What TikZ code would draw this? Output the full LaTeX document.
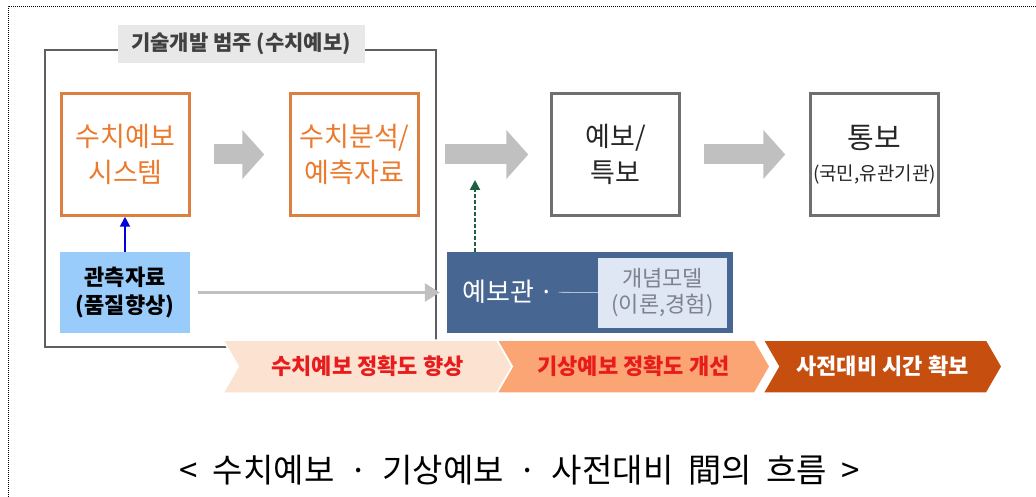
\documentclass[tikz,border=0pt]{standalone}
\usepackage{fontspec}
\newfontfamily\kr{Noto Sans CJK KR}
\usetikzlibrary{arrows.meta,positioning,shapes.symbols}

\definecolor{boxorange}{RGB}{220,128,66}
\definecolor{txtorange}{RGB}{236,122,44}
\definecolor{frameg}{RGB}{95,95,95}
\definecolor{arrg}{RGB}{192,192,192}
\definecolor{obsblue}{RGB}{153,204,250}
\definecolor{fcblue}{RGB}{72,102,146}
\definecolor{mdlbg}{RGB}{222,231,243}
\definecolor{mdltxt}{RGB}{125,130,142}
\definecolor{chevA}{RGB}{252,226,208}
\definecolor{chevB}{RGB}{250,165,115}
\definecolor{chevC}{RGB}{198,78,14}
\definecolor{redtxt}{RGB}{232,28,28}
\definecolor{dgreen}{RGB}{30,95,65}

\begin{document}
\begin{tikzpicture}[
  x=1pt, y=-1pt,
  font=\kr,
  box/.style={draw, line width=2.5pt, fill=white, align=center, minimum width=128pt, minimum height=122pt, inner sep=0pt},
  numbox/.style={box, draw=boxorange, text=txtorange, font=\kr\fontsize{27}{36}\selectfont},
  outbox/.style={box, draw=frameg!90, text=black!85, font=\kr\fontsize{27}{36}\selectfont},
  fatarr/.style={-{Triangle[width=48pt,length=22pt]}, line width=20pt, draw=arrg},
  arr/.style={-{Triangle[width=18pt,length=15pt]}, line width=3pt, draw=arrg},
  chev/.style={signal, signal from=west, signal to=east, signal pointer angle=120, draw=white, line width=1.5pt, minimum height=53pt, inner sep=0pt, font=\kr\bfseries\fontsize{22}{26}\selectfont}
]
\useasboundingbox (0,0) rectangle (1036,497);
\draw[line width=0.8pt, dash pattern=on 1pt off 1pt] (8,497) -- (8,6) -- (1036,6);

\node[draw=frameg, line width=2pt, minimum width=391pt, minimum height=297pt] (tech) at (240.5,198.5) {};
\node[fill=black!9, minimum width=247pt, minimum height=38pt, text=black!75, font=\kr\bfseries\fontsize{21}{24}\selectfont] (techlbl) at (241,44) {기술개발 범주 (수치예보)};

\node[numbox] (nwp) at (125.5,154.5) {수치예보\\시스템};
\node[numbox, right=98.5pt of nwp] (anal) {수치분석/\\예측자료};
\node[outbox, right=130.5pt of anal] (warn) {예보/\\특보};
\node[outbox, right=128.5pt of warn] (notice) {\fontsize{29}{32}\selectfont 통보\\[-4pt]{\fontsize{19}{22}\selectfont(국민,유관기관)}};

\draw[fatarr, shorten <=23pt, shorten >=25pt] (nwp) -- (anal);
\draw[fatarr, shorten <=25pt, shorten >=22pt] (anal) -- (warn);
\draw[fatarr, shorten <=23pt, shorten >=24pt] (warn) -- (notice);

\node[fill=obsblue, minimum width=130pt, minimum height=81pt, align=center, font=\kr\bfseries\fontsize{22}{28}\selectfont] (obs) at (125,292.5) {관측자료\\(품질향상)};
\node[fill=fcblue, minimum width=286pt, minimum height=81pt] (fcst) at (590,292.5) {};
\node[anchor=west, text=white, inner sep=0pt, font=\kr\fontsize{26}{28}\selectfont] (fcstlbl) at (462,292) {예보관 ·};
\node[fill=mdlbg, minimum width=129pt, minimum height=70pt, align=center, text=mdltxt, font=\kr\fontsize{22}{26}\selectfont] (model) at (662.5,293) {개념모델\\(이론,경험)};
\draw[line width=0.8pt, draw=mdlbg!70!fcblue, shorten <=4pt] (fcstlbl) -- (model);

\draw[-{Triangle[width=10pt,length=10pt]}, line width=2pt, draw=blue!85!black] (obs.north) -- (obs.north |- nwp.south);
\draw[arr, shorten <=8pt, shorten >=7pt] (obs) -- (fcst);
\coordinate (merge) at (475,180);
\draw[-{Triangle[width=10pt,length=10pt]}, line width=2pt, draw=dgreen, dash pattern=on 4pt off 2pt] (merge |- fcst.north) -- (merge);

\node[chev, fill=chevA, text=redtxt, minimum width=289pt] (gainA) at (367.5,366.5) {수치예보 정확도 향상};
\node[chev, fill=chevB, text=redtxt, minimum width=273pt] (gainB) at (633.5,366.5) {기상예보 정확도 개선};
\node[chev, fill=chevC, text=white, minimum width=239pt] (gainC) at (882.5,366.5) {사전대비 시간 확보};

\node[font=\kr\fontsize{33}{36}\selectfont] (caption) at (520,470) {<\ \ 수치예보\ \ ·\ \ 기상예보\ \ ·\ \ 사전대비\ \ 間의\ \ 흐름\ \ >};
\end{tikzpicture}
\end{document}
